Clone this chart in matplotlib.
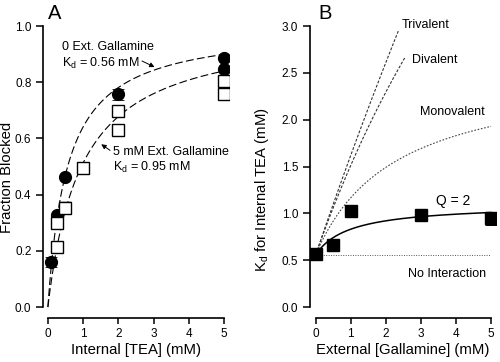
import numpy as np
import matplotlib
matplotlib.use("Agg")
import matplotlib.pyplot as plt

plt.rcParams['font.family'] = ['Liberation Sans', 'DejaVu Sans']
plt.rcParams['mathtext.fontset'] = 'custom'
plt.rcParams['mathtext.rm'] = 'Liberation Sans'
plt.rcParams['mathtext.it'] = 'Liberation Sans:italic'

# ---- panel A data ----
tea_ctrl = [0.1, 0.25, 0.5, 2, 5, 5]
blk_ctrl = [0.16, 0.327, 0.463, 0.757, 0.885, 0.846]
err_ctrl = [0.018, 0, 0, 0.02, 0, 0]

tea_gal = [0.25, 0.25, 0.5, 1, 2, 2, 5, 5]
blk_gal = [0.30, 0.215, 0.353, 0.494, 0.699, 0.63, 0.804, 0.76]
err_gal = [0, 0, 0.02, 0, 0, 0, 0, 0]

kd_ctrl = 0.56
kd_gal = 0.95

# ---- panel B data ----
gal = [0, 0.5, 1, 3, 5]
kd_meas = [0.57, 0.66, 1.03, 0.985, 0.95]
kd_err = [0, 0, 0, 0.05, 0.07]

# model parameters: Kd(G) = Kd0 * (1 + G/a) / (1 + G/b), drawn up to xmax
models = {
    'Q = 2': (0.5, 0.98, 5.0),
    'Monovalent': (0.5, 2.28, 5.0),
    'Divalent': (0.5, 9.1, 2.55),
    'Trivalent': (0.5, 27.7, 2.36),
}

fig = plt.figure(figsize=(5, 3.62), dpi=100)

# ---------- panel A ----------
axA = fig.add_axes([0.0866, 0.1215, 0.372, 0.822])
xs = np.linspace(0, 5, 300)
axA.plot(xs, xs / (xs + kd_ctrl), color='black', lw=0.8, dashes=(7, 3))
axA.plot(xs, xs / (xs + kd_gal), color='black', lw=0.8, dashes=(7, 3))
axA.errorbar(tea_ctrl, blk_ctrl, yerr=err_ctrl, fmt='o', ms=8.5, color='black',
             ecolor='black', elinewidth=0.6, capsize=4, capthick=0.6, zorder=3)
axA.errorbar(tea_gal, blk_gal, yerr=err_gal, fmt='s', ms=8, mfc='white', mec='black',
             mew=1.0, ecolor='black', elinewidth=0.6, capsize=4, capthick=0.6, zorder=3)

axA.text(0.40, 0.925, '0 Ext. Gallamine', fontsize=9, va='center')
axA.text(0.40, 0.868, r'K$_{\mathrm{d}}$ = 0.56 mM', fontsize=9, va='center')
axA.annotate('', xy=(3.1, 0.85), xytext=(2.6, 0.88),
             arrowprops=dict(arrowstyle='-|>', color='black', lw=0.7,
                             mutation_scale=7))
axA.text(1.85, 0.552, '5 mM Ext. Gallamine', fontsize=9, va='center')
axA.text(1.85, 0.498, r'K$_{\mathrm{d}}$ = 0.95 mM', fontsize=9, va='center')
axA.annotate('', xy=(1.45, 0.585), xytext=(1.83, 0.552),
             arrowprops=dict(arrowstyle='-|>', color='black', lw=0.7,
                             mutation_scale=7))

axA.set_xlim(-0.13, 5.15)
axA.set_ylim(-0.039, 1.02)
axA.set_xticks([0, 1, 2, 3, 4, 5])
axA.set_yticks(np.arange(0, 1.01, 0.2))
axA.set_yticklabels(['%.1f' % v for v in np.arange(0, 1.01, 0.2)])
axA.set_xlabel('Internal [TEA] (mM)', fontsize=10.7)
axA.set_ylabel('Fraction Blocked', fontsize=10.7)
axA.yaxis.set_label_coords(-0.155, 0.474)
axA.xaxis.set_label_coords(0.5, -0.084)
axA.text(0.025, 1.023, 'A', transform=axA.transAxes, fontsize=14.5,
         ha='left', va='center')

# ---------- panel B ----------
axB = fig.add_axes([0.62, 0.1215, 0.3726, 0.822])
axB.plot([0, 5], [kd_ctrl, kd_ctrl], color='#555555', lw=0.7, ls=(0, (1, 1.5)))
for name, (a, b, xmax) in models.items():
    g = np.linspace(0, xmax, 200)
    kd = kd_ctrl * (1 + g / a) / (1 + g / b)
    if name == 'Q = 2':
        axB.plot(g, kd, color='black', lw=1.1)
    elif name == 'Monovalent':
        axB.plot(g, kd, color='#444444', lw=0.8, ls=(0, (1.5, 1.5)))
    else:
        axB.plot(g, kd, color='#333333', lw=0.8, ls=(0, (2.5, 1.5)))
axB.errorbar(gal, kd_meas, yerr=kd_err, fmt='s', ms=8, color='black',
             ecolor='black', elinewidth=0.7, capsize=4, capthick=0.7, zorder=3)

axB.text(2.45, 3.01, 'Trivalent', fontsize=9, va='center')
axB.text(2.75, 2.64, 'Divalent', fontsize=9, va='center')
axB.text(2.97, 2.08, 'Monovalent', fontsize=9, va='center')
axB.text(3.42, 1.13, 'Q = 2', fontsize=10, va='center')
axB.text(2.63, 0.35, 'No Interaction', fontsize=9, va='center')

axB.set_xlim(-0.163, 5.15)
axB.set_ylim(-0.117, 3.06)
axB.set_xticks([0, 1, 2, 3, 4, 5])
axB.set_yticks(np.arange(0, 3.01, 0.5))
axB.set_yticklabels(['%.1f' % v for v in np.arange(0, 3.01, 0.5)])
axB.set_xlabel('External [Gallamine] (mM)', fontsize=10.7)
axB.set_ylabel(r'K$_{\mathrm{d}}$ for Internal TEA (mM)', fontsize=10.7)
axB.yaxis.set_label_coords(-0.21, 0.43)
axB.xaxis.set_label_coords(0.5, -0.084)
axB.text(0.043, 1.023, 'B', transform=axB.transAxes, fontsize=14.5,
         ha='left', va='center')

for ax, ytop in ((axA, 1.0), (axB, 3.0)):
    ax.spines['top'].set_visible(False)
    ax.spines['right'].set_visible(False)
    ax.spines['left'].set_bounds(0, ytop)
    ax.spines['bottom'].set_bounds(0, 5)
    ax.spines['left'].set_linewidth(1.2)
    ax.spines['bottom'].set_linewidth(1.2)
    ax.tick_params(axis='x', direction='out', length=4, width=1.1, labelsize=8.5, pad=3)
    ax.tick_params(axis='y', direction='out', length=5, width=1.1, labelsize=8.5, pad=3.5)

fig.savefig('out.png', dpi=100)
